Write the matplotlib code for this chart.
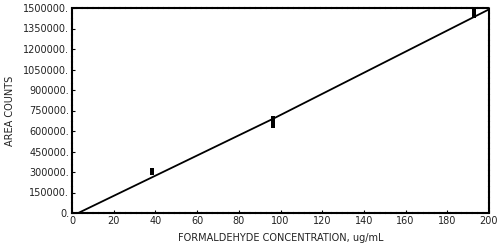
import matplotlib
matplotlib.use("Agg")
import matplotlib.pyplot as plt
import numpy as np

# Data
conc_points = [38.5, 38.5, 38.5, 96.5, 96.5, 96.5, 96.5, 193.0, 193.0, 193.0]
area_points = [295000, 305000, 312000, 640000, 660000, 680000, 695000, 1440000, 1460000, 1480000]
fit_x = [3.0, 96.5, 200.0]
fit_y = [0, 690000, 1490000]

x_ticks = [0, 20, 40, 60, 80, 100, 120, 140, 160, 180, 200]
y_ticks = [0, 150000, 300000, 450000, 600000, 750000, 900000, 1050000, 1200000, 1350000, 1500000]
y_labels = [f"{v}." for v in y_ticks]

txt = "#222222"
fig = plt.figure(figsize=(5, 2.5), dpi=100)
ax = fig.add_axes([0.144, 0.148, 0.834, 0.82])
ax.plot(fit_x, fit_y, color="black", lw=1.3)
ax.plot(conc_points, area_points, "s", color="black", ms=2.3, mew=0)

ax.set_xlim(0, 200)
ax.set_ylim(0, 1500000)
ax.set_xticks(x_ticks)
ax.set_xticklabels([str(v) for v in x_ticks], fontsize=7, color=txt)
ax.set_yticks(y_ticks)
ax.set_yticklabels(y_labels, fontsize=7, color=txt)
ax.tick_params(direction="in", length=2, width=0.8, pad=2)
for s in ax.spines.values():
    s.set_linewidth(1.5)
    s.set_linestyle((0, (2, 0.6)))
ax.set_xlabel("FORMALDEHYDE CONCENTRATION, ug/mL", fontsize=7, labelpad=5, color=txt)
ax.set_ylabel("AREA COUNTS", fontsize=7, labelpad=6, color=txt)
fig.savefig("out.png", dpi=100)
